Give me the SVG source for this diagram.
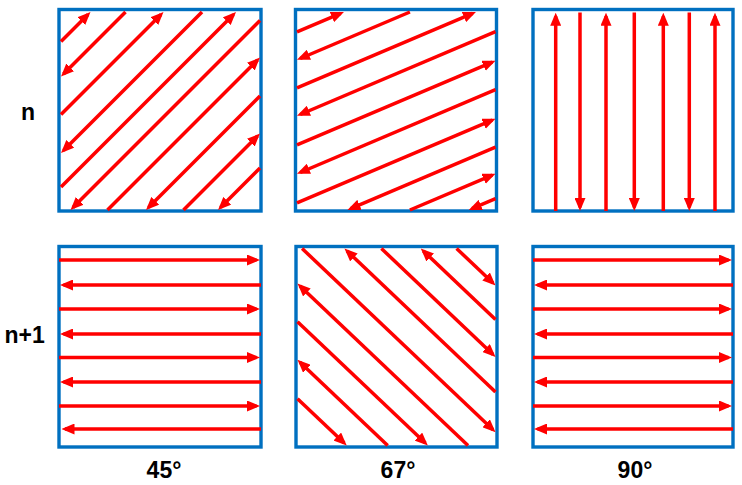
<svg xmlns="http://www.w3.org/2000/svg" width="742" height="485" viewBox="0 0 742 485">
<style>
.box{fill:#fff;stroke:#0070C0;stroke-width:3.4}
.a{stroke:#FF0000;stroke-width:3.5;fill:none;marker-end:url(#ah)}
.lbl{font-family:"Liberation Sans",Arial,sans-serif;font-weight:bold;font-size:23px;fill:#000}
</style>
<defs>
<marker id="ah" markerUnits="userSpaceOnUse" markerWidth="13" markerHeight="11" refX="9.5" refY="5.5" orient="auto">
<path d="M0,0 L13,5.5 L0,11 z" fill="#FF0000"/>
</marker>
</defs>
<rect width="742" height="485" fill="#fff"/>
<g id="panel-n-45">
<rect class="box" x="59" y="9.5" width="202" height="201.5"/>
<g class="arrows">
<path class="a" d="M61,41.5 L88,14.5"/>
<path class="a" d="M125.5,12 L63.5,74"/>
<path class="a" d="M61,114.5 L161,14.5"/>
<path class="a" d="M202,12 L63.5,150.5"/>
<path class="a" d="M61,187 L233.5,14.5"/>
<path class="a" d="M260,20.5 L73,207.5"/>
<path class="a" d="M107.5,210 L257.5,60"/>
<path class="a" d="M260,96 L148.5,207.5"/>
<path class="a" d="M183.5,210 L257.5,136"/>
<path class="a" d="M260,168 L220.5,207.5"/>
</g>
</g>
<g id="panel-n-67">
<rect class="box" x="295.5" y="9.5" width="201" height="201.5"/>
<g class="arrows">
<path class="a" d="M297,31.9 L340.7,13.4"/>
<path class="a" d="M409.9,12 L300.2,58.5"/>
<path class="a" d="M297,87.9 L472.7,13.4"/>
<path class="a" d="M495.5,31.7 L300.2,114.5"/>
<path class="a" d="M297,144.9 L492.3,62.1"/>
<path class="a" d="M495.5,89.7 L300.2,172.5"/>
<path class="a" d="M297,202.9 L492.3,120.1"/>
<path class="a" d="M495.5,147.2 L350.7,208.6"/>
<path class="a" d="M409.9,210 L492.3,175.1"/>
<path class="a" d="M495.5,198.7 L472,208.6"/>
</g>
</g>
<g id="panel-n-90">
<rect class="box" x="533" y="9.5" width="200" height="201.5"/>
<g class="arrows">
<path class="a" d="M555.7,211 L555.7,16.2"/>
<path class="a" d="M580,12.5 L580,207.5"/>
<path class="a" d="M606,211 L606,16.2"/>
<path class="a" d="M634.3,12.5 L634.3,207.5"/>
<path class="a" d="M663.3,211 L663.3,16.2"/>
<path class="a" d="M689.3,12.5 L689.3,207.5"/>
<path class="a" d="M715,211 L715,16.2"/>
</g>
</g>
<g id="panel-n1-45">
<rect class="box" x="59" y="246.5" width="202" height="200.5"/>
<g class="arrows">
<path class="a" d="M59,260 L256.5,260"/>
<path class="a" d="M261,285 L63.5,285"/>
<path class="a" d="M59,309 L256.5,309"/>
<path class="a" d="M261,334 L63.5,334"/>
<path class="a" d="M59,357.5 L256.5,357.5"/>
<path class="a" d="M261,382 L63.5,382"/>
<path class="a" d="M59,406 L256.5,406"/>
<path class="a" d="M261,429 L65,429"/>
</g>
</g>
<g id="panel-n1-67">
<rect class="box" x="296" y="246.5" width="201" height="200.5"/>
<g class="arrows">
<path class="a" d="M456.6,248.5 L493,283"/>
<path class="a" d="M495.5,319.4 L423.3,250.9"/>
<path class="a" d="M381.4,248.5 L493,354.5"/>
<path class="a" d="M495.5,391.9 L347,250.9"/>
<path class="a" d="M302.1,248.5 L493,429.8"/>
<path class="a" d="M468,445.5 L300,285.9"/>
<path class="a" d="M297.5,321.7 L425.3,443.1"/>
<path class="a" d="M387.7,445.5 L300,362.2"/>
<path class="a" d="M297.5,398.7 L344.2,443.1"/>
</g>
</g>
<g id="panel-n1-90">
<rect class="box" x="533" y="246.5" width="200" height="200.5"/>
<g class="arrows">
<path class="a" d="M533,260 L728.5,260"/>
<path class="a" d="M733,285 L537.5,285"/>
<path class="a" d="M533,309 L728.5,309"/>
<path class="a" d="M733,334 L537.5,334"/>
<path class="a" d="M533,357.5 L728.5,357.5"/>
<path class="a" d="M733,382 L537.5,382"/>
<path class="a" d="M533,406 L728.5,406"/>
<path class="a" d="M733,429 L537.5,429"/>
</g>
</g>
<g id="labels">
<text class="lbl" x="21" y="120">n</text>
<text class="lbl" x="4.5" y="343">n+1</text>
<text class="lbl" x="164" y="478" text-anchor="middle">45°</text>
<text class="lbl" x="398" y="478" text-anchor="middle">67°</text>
<text class="lbl" x="635" y="478" text-anchor="middle">90°</text>
</g>
</svg>
